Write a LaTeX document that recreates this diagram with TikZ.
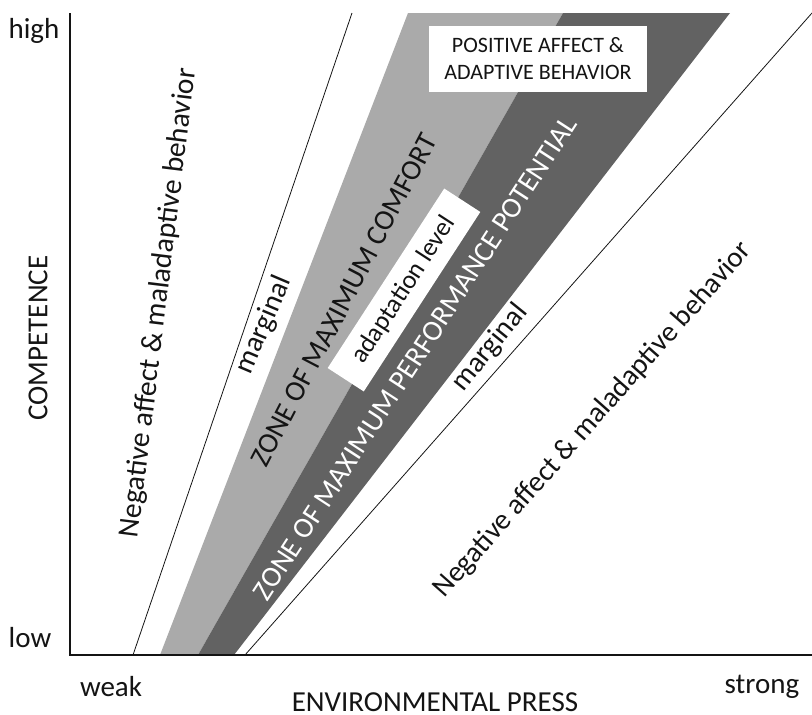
\documentclass[tikz,border=0pt]{standalone}
\usepackage{fontspec}
\setmainfont{Carlito}
\definecolor{lightband}{RGB}{170,170,170}
\definecolor{darkband}{RGB}{98,98,98}
\definecolor{txt}{RGB}{20,20,20}
\begin{document}
\begin{tikzpicture}[x=1pt,y=-1pt,
  lbl/.style={font=\fontsize{29}{31}\selectfont, text=txt, inner sep=0pt},
  whitebox/.style={fill=white, inner sep=0pt, align=center},
  axis/.style={line width=2pt, draw=txt},
  bound/.style={line width=0.8pt, draw=txt}]
\useasboundingbox (0,0) rectangle (812,715);
% corner coordinates
\coordinate (o) at (70,655);
\coordinate (ytop) at (70,13);
\coordinate (xend) at (812,655);
\coordinate (lmB) at (133,655); \coordinate (lmT) at (352,13);
\coordinate (laB) at (160,655); \coordinate (laT) at (408,13);
\coordinate (mdB) at (198,655); \coordinate (mdT) at (563,13);
\coordinate (dkB) at (234,655); \coordinate (dkT) at (730,13);
\coordinate (rmB) at (245,655); \coordinate (rmT) at (812,13);
% bands
\fill[lightband] (laB) -- (laT) -- (mdT) -- (mdB) -- cycle;
\fill[darkband] (mdB) -- (mdT) -- (dkT) -- (dkB) -- cycle;
% marginal lines
\draw[bound] (lmB) -- (lmT);
\draw[bound] (rmB) -- (rmT);
% axes
\draw[axis] (ytop) -- (o) -- (xend);
% labels
\node[lbl] (high) at (34,31) {high};
\node[lbl] (low) at (30,638) {low};
\node[lbl] (weak) at (111,687) {weak};
\node[lbl] (strong) at (762,687) {strong};
\node[lbl] (press) at (435,702) {ENVIRONMENTAL PRESS};
\node[lbl, rotate=90] (comp) at (38,338) {COMPETENCE};
\node[lbl, rotate=83, font=\fontsize{29.5}{31}\selectfont] (negL) at (159,303) {Negative affect \& maladaptive behavior};
\node[lbl, rotate=67] (margL) at (264,325) {marginal};
\node[lbl, rotate=62.5] (comfort) at (344,300) {ZONE OF MAXIMUM COMFORT};
\node[lbl, whitebox, rotate=57, minimum width=214pt, minimum height=43pt, font=\fontsize{26}{28}\selectfont] (adapt) at (404,290) {adaptation level};
\node[lbl, rotate=57, text=white] (perf) at (415,358) {ZONE OF MAXIMUM PERFORMANCE POTENTIAL};
\node[lbl, rotate=51] (margR) at (490,348) {marginal};
\node[lbl, rotate=48.5] (negR) at (593,420) {Negative affect \& maladaptive behavior};
\node[lbl, whitebox, minimum width=218pt, minimum height=66pt, font=\fontsize{22}{27}\selectfont] (pos) at (538,59) {POSITIVE AFFECT \&\\ADAPTIVE BEHAVIOR};
\end{tikzpicture}
\end{document}
